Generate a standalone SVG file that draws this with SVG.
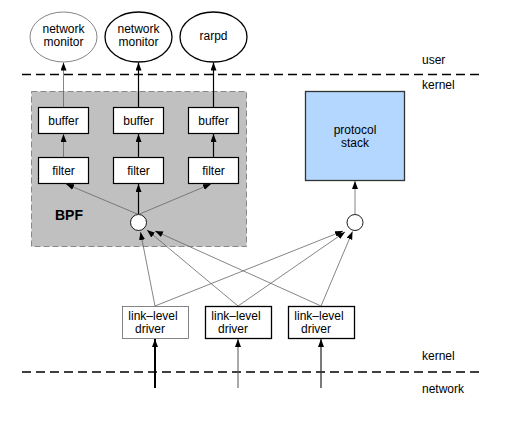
<svg xmlns="http://www.w3.org/2000/svg" width="506" height="423" viewBox="0 0 506 423">
<defs>
<marker id="ah" markerUnits="userSpaceOnUse" markerWidth="10" markerHeight="10" refX="8" refY="3" orient="auto">
<path d="M0,0 L8,3 L0,6 z" fill="#000"/>
</marker>
<style>
text{font-family:"Liberation Sans",Arial,sans-serif;font-size:12px;fill:#000;text-anchor:middle}
.lbl{text-anchor:start}
.box{fill:#fff;stroke:#000;stroke-width:1.2}
.thin{stroke:#666;stroke-width:0.8;fill:none}
.thick{stroke:#000;stroke-width:1.2;fill:none}
.dash{stroke:#000;stroke-width:1.5;stroke-dasharray:9,5;fill:none}
</style>
</defs>
<rect width="506" height="423" fill="#fff"/>

<g id="boundaries">
<line class="dash" x1="22" y1="74.5" x2="483" y2="74.5"/>
<line class="dash" x1="22" y1="372" x2="483" y2="372"/>
<text class="lbl" x="422" y="64">user</text>
<text class="lbl" x="422" y="89">kernel</text>
<text class="lbl" x="422" y="360">kernel</text>
<text class="lbl" x="422" y="393">network</text>
</g>

<g id="bpf">
<rect x="31.5" y="91.5" width="215" height="155" fill="#c0c0c0" stroke="#888" stroke-width="1" stroke-dasharray="6,3"/>
<text x="55" y="220" style="font-weight:bold;font-size:14px;text-anchor:start">BPF</text>
</g>

<g id="monitor1">
<ellipse cx="63.5" cy="37" rx="33.5" ry="25" fill="#fff" stroke="#666" stroke-width="0.8"/>
<text x="63.5" y="33">network</text>
<text x="63.5" y="46">monitor</text>
</g>
<g id="monitor2">
<ellipse cx="138.5" cy="37" rx="33.5" ry="25" fill="#fff" stroke="#000" stroke-width="1.3"/>
<text x="138.5" y="33">network</text>
<text x="138.5" y="46">monitor</text>
</g>
<g id="rarpd">
<ellipse cx="213.5" cy="37" rx="33.5" ry="25" fill="#fff" stroke="#000" stroke-width="1.3"/>
<text x="213.5" y="40">rarpd</text>
</g>

<g id="buffer1"><rect class="box" x="38.5" y="107.5" width="50" height="26"/><text x="63.5" y="125">buffer</text></g>
<g id="buffer2"><rect class="box" x="113.5" y="107.5" width="50" height="26"/><text x="138.5" y="125">buffer</text></g>
<g id="buffer3"><rect class="box" x="188.5" y="107.5" width="50" height="26"/><text x="213.5" y="125">buffer</text></g>

<g id="filter1"><rect class="box" x="38.5" y="157.5" width="50" height="26"/><text x="63.5" y="175">filter</text></g>
<g id="filter2"><rect class="box" x="113.5" y="157.5" width="50" height="26"/><text x="138.5" y="175">filter</text></g>
<g id="filter3"><rect class="box" x="188.5" y="157.5" width="50" height="26"/><text x="213.5" y="175">filter</text></g>

<g id="tap-bpf"><circle cx="138.5" cy="222.5" r="8" fill="#fff" stroke="#000" stroke-width="0.9"/></g>

<g id="protocol-stack">
<rect x="305.5" y="91.5" width="99" height="89" fill="#b3d7ff" stroke="#333" stroke-width="1.3"/>
<text x="355" y="134">protocol</text>
<text x="355" y="147">stack</text>
</g>
<g id="tap-stack"><circle cx="355" cy="222.5" r="8" fill="#fff" stroke="#000" stroke-width="0.9"/></g>

<g id="driver1"><rect x="122.5" y="306.5" width="66" height="32" fill="#fff" stroke="#666" stroke-width="0.8"/><text x="153" y="320">link–level</text><text x="150" y="333">driver</text></g>
<g id="driver2"><rect x="205.5" y="306.5" width="66" height="32" fill="#fff" stroke="#000" stroke-width="1.3"/><text x="236" y="320">link–level</text><text x="233" y="333">driver</text></g>
<g id="driver3"><rect x="288.5" y="306.5" width="66" height="32" fill="#fff" stroke="#000" stroke-width="1.3"/><text x="319" y="320">link–level</text><text x="316" y="333">driver</text></g>

<g id="connectors">
<line class="thin" x1="63.5" y1="107" x2="63.5" y2="62.5" marker-end="url(#ah)"/>
<line class="thick" x1="138.5" y1="107" x2="138.5" y2="62.5" marker-end="url(#ah)"/>
<line class="thick" x1="213.5" y1="107" x2="213.5" y2="62.5" marker-end="url(#ah)"/>
<line class="thin" x1="63.5" y1="157" x2="63.5" y2="134" marker-end="url(#ah)"/>
<line class="thick" x1="138.5" y1="157" x2="138.5" y2="134" marker-end="url(#ah)"/>
<line class="thick" x1="213.5" y1="157" x2="213.5" y2="134" marker-end="url(#ah)"/>
<line class="thin" x1="138.5" y1="214.5" x2="66" y2="184" marker-end="url(#ah)"/>
<line class="thick" x1="138.5" y1="214.5" x2="138.5" y2="184" marker-end="url(#ah)"/>
<line class="thin" x1="138.5" y1="214.5" x2="211" y2="184" marker-end="url(#ah)"/>
<line class="thin" x1="355" y1="214.5" x2="355" y2="181" marker-end="url(#ah)"/>
<line class="thin" x1="155" y1="306" x2="140.5" y2="232" marker-end="url(#ah)"/>
<line class="thin" x1="238" y1="306" x2="147" y2="230" marker-end="url(#ah)"/>
<line class="thin" x1="321" y1="306" x2="155" y2="231" marker-end="url(#ah)"/>
<line class="thin" x1="155" y1="306" x2="343" y2="231" marker-end="url(#ah)"/>
<line class="thin" x1="238" y1="306" x2="345" y2="232" marker-end="url(#ah)"/>
<line class="thin" x1="321" y1="306" x2="352.5" y2="231.5" marker-end="url(#ah)"/>
<line stroke="#000" stroke-width="2" x1="155" y1="388" x2="155" y2="339" marker-end="url(#ah)"/>
<line stroke="#555" stroke-width="1" x1="238" y1="388" x2="238" y2="339" marker-end="url(#ah)"/>
<line stroke="#333" stroke-width="1.3" x1="321" y1="388" x2="321" y2="339" marker-end="url(#ah)"/>
</g>
</svg>
